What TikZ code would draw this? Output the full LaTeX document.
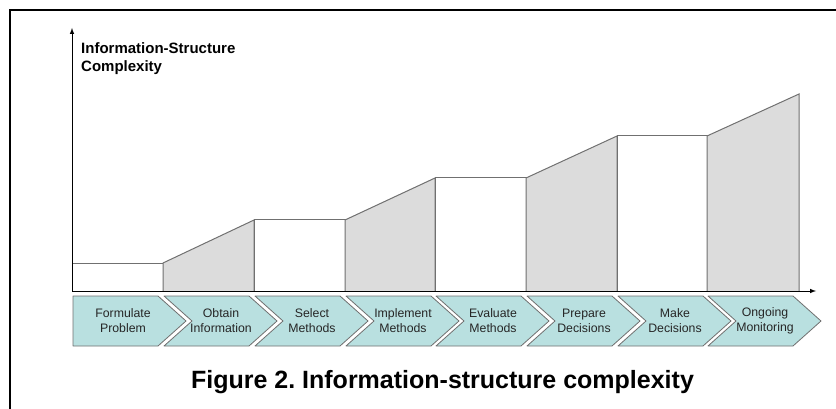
\documentclass[tikz,border=0pt]{standalone}
\usepackage{fontspec}
\setmainfont{Liberation Sans}
\usetikzlibrary{arrows}
\definecolor{chevfill}{HTML}{B9E0E0}
\definecolor{barfill}{HTML}{DCDCDC}
\definecolor{edgegray}{HTML}{707070}
\tikzset{
  bar/.style={draw=edgegray, line width=1pt},
  chev/.style={draw=edgegray, fill=chevfill, line width=0.8pt, line join=round},
  steplabel/.style={align=center, font=\fontsize{12.3}{15}\selectfont, text=black!85},
  axis/.style={line width=1pt, ->, >=latex}
}
\begin{document}
\begin{tikzpicture}[x=1pt, y=-1pt]
\useasboundingbox (0,0) rectangle (836,409);
% frame
\draw[line width=1.5pt] (10,412) -- (10,10) -- (840,10);

% bars
\draw[bar, fill=white]   (72,291) -- (72,263) -- (163,263) -- (163,291);
\draw[bar, fill=barfill] (163,291) -- (163,263) -- (254,220) -- (254,291);
\draw[bar, fill=white]   (254,291) -- (254,220) -- (345,220) -- (345,291);
\draw[bar, fill=barfill] (345,291) -- (345,220) -- (435,178) -- (435,291);
\draw[bar, fill=white]   (435,291) -- (435,178) -- (526,178) -- (526,291);
\draw[bar, fill=barfill] (526,291) -- (526,178) -- (617,136) -- (617,291);
\draw[bar, fill=white]   (617,291) -- (617,136) -- (707,136) -- (707,291);
\draw[bar, fill=barfill] (707,291) -- (707,136) -- (799,94) -- (799,291);

% axes
\coordinate (origin) at (72,291);
\coordinate (ytip) at (72,28);
\coordinate (xtip) at (816,291);
\draw[axis] (origin) -- (ytip);
\draw[axis] (origin) -- (xtip);
\node[anchor=north west, align=left, font=\bfseries\fontsize{15}{18}\selectfont, inner sep=0pt]
  (ylabel) at (81,42) {Information-Structure\\Complexity};

% process chevrons
\draw[chev] (73,296) -- (158,296) -- (186,321) -- (158,346) -- (73,346) -- cycle;
\draw[chev] (164,296) -- (249,296) -- (277,321) -- (249,346) -- (164,346) -- (192,321) -- cycle;
\draw[chev] (255,296) -- (340,296) -- (368,321) -- (340,346) -- (255,346) -- (283,321) -- cycle;
\draw[chev] (346,296) -- (431,296) -- (459,321) -- (431,346) -- (346,346) -- (374,321) -- cycle;
\draw[chev] (436,296) -- (521,296) -- (549,321) -- (521,346) -- (436,346) -- (464,321) -- cycle;
\draw[chev] (527,296) -- (612,296) -- (640,321) -- (612,346) -- (527,346) -- (555,321) -- cycle;
\draw[chev] (618,296) -- (703,296) -- (731,321) -- (703,346) -- (618,346) -- (646,321) -- cycle;
\draw[chev] (708,296) -- (793,296) -- (821,321) -- (793,346) -- (708,346) -- (736,321) -- cycle;

\node[steplabel] (formulate) at (123,321) {Formulate\\Problem};
\node[steplabel] (obtain)    at (221,321) {Obtain\\Information};
\node[steplabel] (select)    at (312,321) {Select\\Methods};
\node[steplabel] (implement) at (403,321) {Implement\\Methods};
\node[steplabel] (evaluate)  at (493,321) {Evaluate\\Methods};
\node[steplabel] (prepare)   at (584,321) {Prepare\\Decisions};
\node[steplabel] (make)      at (675,321) {Make\\Decisions};
\node[steplabel] (ongoing)   at (765,321) {Ongoing\\Monitoring};

% caption
\node[font=\bfseries\fontsize{25}{28}\selectfont, anchor=base] (caption) at (442.5,388)
  {Figure 2.\ Information-structure complexity};
\end{tikzpicture}
\end{document}
